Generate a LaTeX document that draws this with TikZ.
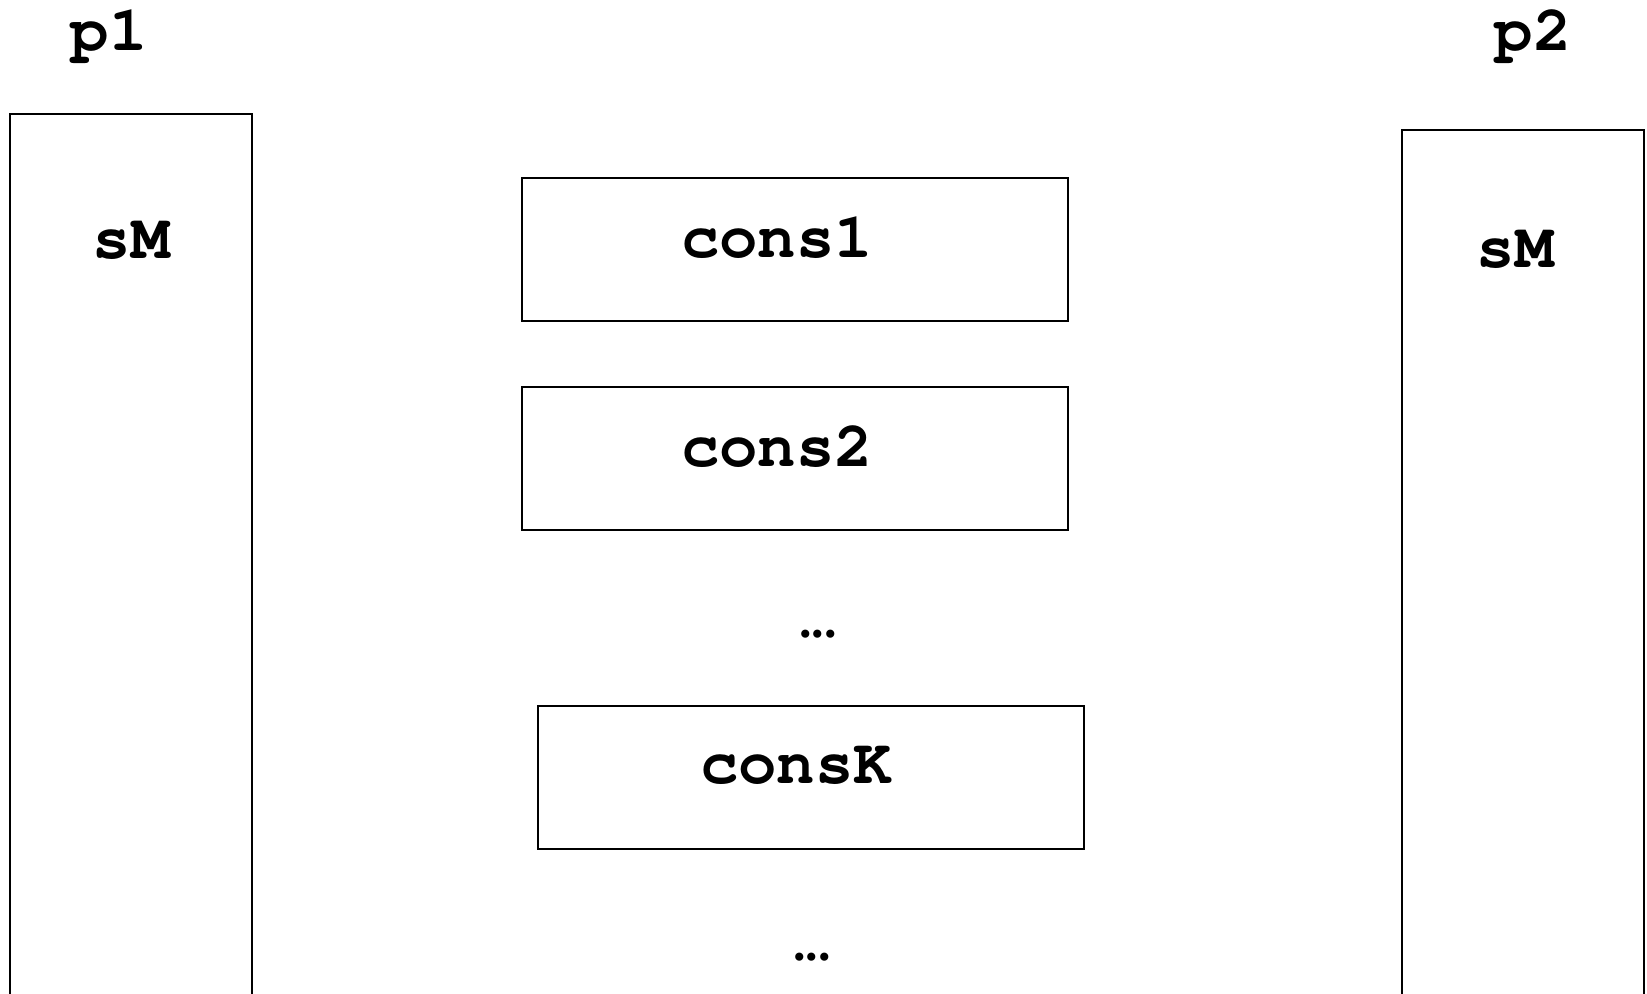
\documentclass[tikz,border=0pt]{standalone}
\usepackage{fontspec}
\setmainfont{Liberation Serif}
\setmonofont{TeX Gyre Cursor}
\usetikzlibrary{positioning}

\begin{document}
\begin{tikzpicture}[x=0.5pt, y=-0.5pt,
    lane/.style={draw, line width=1pt, minimum width=121pt, minimum height=450pt, inner sep=0pt},
    cbox/.style={draw, line width=1pt, minimum width=273pt, minimum height=71.5pt, inner sep=0pt},
    tag/.style={font=\ttfamily\bfseries\fontsize{32}{38}\selectfont, inner sep=0pt},
    gap/.style={font=\rmfamily\bfseries\fontsize{25}{30}\selectfont, inner sep=0pt}]
  \useasboundingbox (0,0) rectangle (1647,993);
  \clip (0,0) rectangle (1647,993);

  % the two processes, running off the bottom
  \node[lane] (p1) at (131,564) {};
  \node[lane] (p2) at (1523,580) {};
  \node[tag, anchor=base] (p1tag) at (109,50) {p1};
  \node[tag, anchor=base] (p2tag) at (1533,50) {p2};
  \node[tag, anchor=base] (sm1) at (131,258) {sM};
  \node[tag, anchor=base] (sm2) at (1515,267) {sM};

  % consumers in between
  \node[cbox] (c1) at (795,249.5) {};
  \node[cbox, below=32pt of c1] (c2) {};
  \node[cbox] (ck) at (811,777.5) {};
  \node[tag] (c1tag) at ([xshift=-9pt,yshift=6pt]c1.center) {cons1};
  \node[tag] (c2tag) at ([xshift=-9pt,yshift=6pt]c2.center) {cons2};
  \node[tag] (cktag) at ([xshift=-7.5pt,yshift=6pt]ck.center) {consK};

  \node[gap] (more1) at (818,634) {...};
  \node[gap] (more2) at (812,957) {...};
\end{tikzpicture}
\end{document}
